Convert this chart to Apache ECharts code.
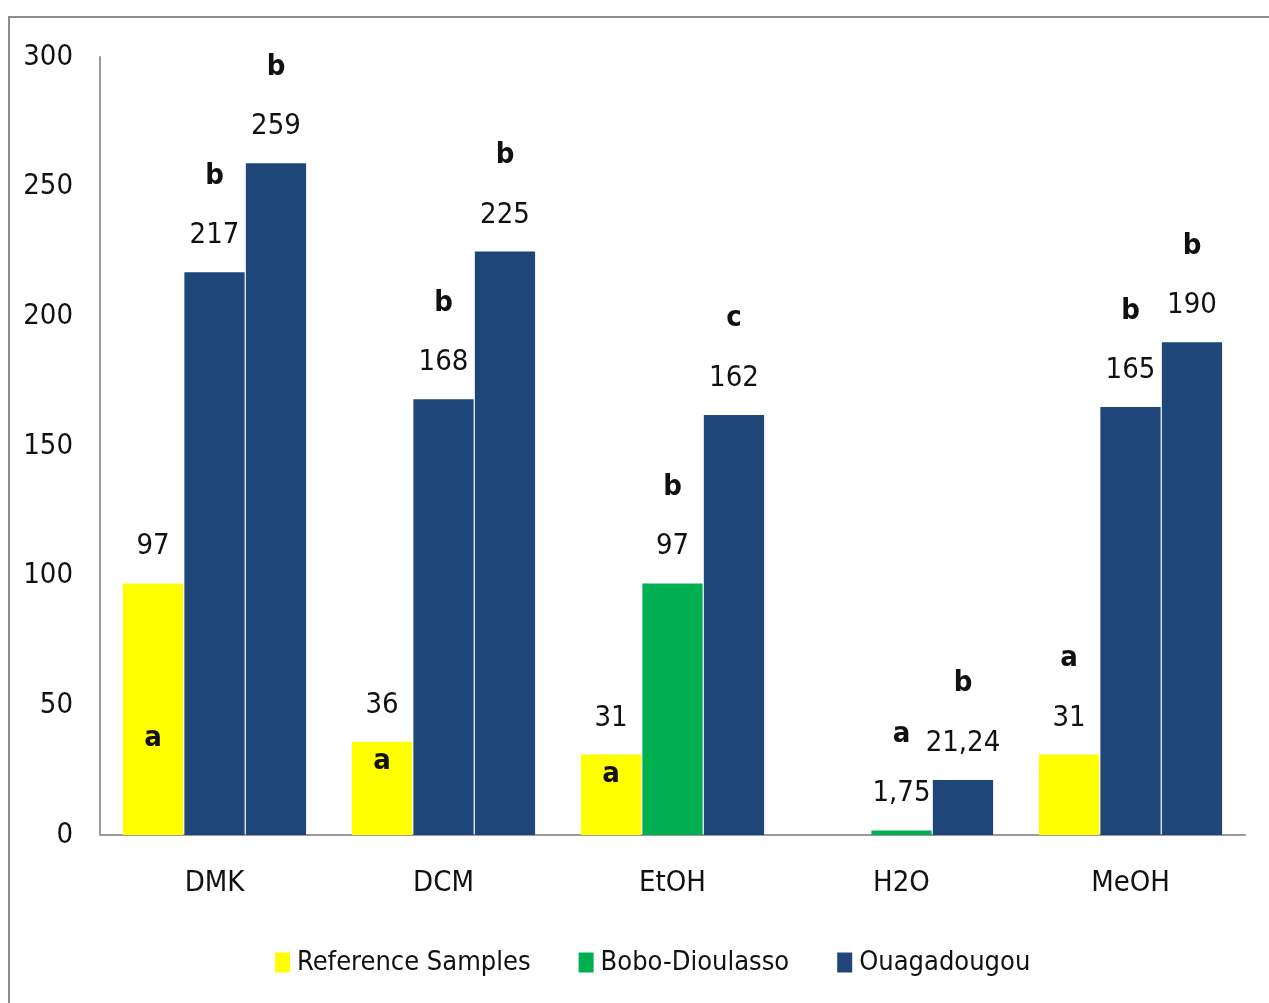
<!DOCTYPE html>
<html>
<head>
<meta charset="utf-8">
<script src="https://cdn.jsdelivr.net/npm/echarts@6/dist/echarts.min.js"></script>
<style>
  html, body { margin: 0; padding: 0; background: #ffffff; }
  #main { width: 1269px; height: 1003px; }
</style>
</head>
<body>
<div id="main"></div>
<script>
// data
var categories = ['DMK', 'DCM', 'EtOH', 'H2O', 'MeOH'];
var refValues = [97, 36, 31, null, 31];
var boboValues = [217, 168, 97, 1.75, 165];
var ouagaValues = [259, 225, 162, 21.24, 190];
// letters of the statistical groups
var refLetters = ['a', 'a', 'a', '', 'a'];
var boboLetters = ['b', 'b', 'b', 'a', 'b'];
var ouagaLetters = ['b', 'b', 'c', 'b', 'b'];
var yTicks = [0, 50, 100, 150, 200, 250, 300];

var FONT = "'Liberation Sans Narrow', 'DejaVu Sans Condensed', 'Open Sans', sans-serif";
var YELLOW = '#FFFF00', GREEN = '#00B050', BLUE = '#1F4678';
// in the original the Bobo-Dioulasso bars of these solvents are drawn in blue
var boboBlue = ['DMK', 'DCM', 'MeOH'];
// the letter of the reference bar sits inside the bar
var letterInside = ['DMK', 'DCM', 'EtOH'];

function fmtValue(v) {
    return String(v).replace('.', ',');
}

function letterMarks(values, letters, inside) {
    var out = [];
    for (var i = 0; i < values.length; i++) {
        if (values[i] == null || !letters[i]) continue;
        var isIn = inside && letterInside.indexOf(categories[i]) >= 0;
        out.push({
            coord: [i, values[i]],
            label: {
                formatter: letters[i],
                offset: [0, isIn ? (categories[i] == 'DMK' ? 155 : 20) : -96]
            }
        });
    }
    return out;
}

function makeSeries(name, values, letters, color, inside) {
    var data = [];
    for (var i = 0; i < values.length; i++) {
        var c = color;
        if (name == 'Bobo-Dioulasso' && boboBlue.indexOf(categories[i]) >= 0) c = BLUE;
        data.push({ value: values[i], itemStyle: { color: c } });
    }
    return {
        name: name,
        type: 'bar',
        data: data,
        itemStyle: { color: color },
        barGap: '2%',
        barCategoryGap: '20%',
        label: {
            show: true,
            position: 'top',
            distance: 22,
            color: '#111',
            fontFamily: FONT,
            fontSize: 29,
            formatter: function (p) { return fmtValue(p.value); }
        },
        markPoint: {
            symbol: 'rect',
            symbolSize: 0,
            silent: true,
            label: {
                show: true,
                position: 'inside',
                color: '#111',
                fontFamily: FONT,
                fontSize: 29,
                fontWeight: 'bold'
            },
            data: letterMarks(values, letters, inside)
        }
    };
}

var myChart = echarts.init(document.getElementById('main'));

var option = {
    animation: false,
    backgroundColor: '#ffffff',
    graphic: [{
        type: 'rect',
        shape: { x: 9, y: 17, width: 1400, height: 1200 },
        style: { fill: 'none', stroke: '#8c8c8c', lineWidth: 2 },
        silent: true
    }],
    grid: { left: 100, right: 24, top: 57, bottom: 168 },
    legend: {
        bottom: 22,
        left: 270,
        itemWidth: 15,
        itemHeight: 20,
        itemGap: 48,
        icon: 'rect',
        textStyle: { fontFamily: FONT, fontSize: 27, color: '#111', padding: [0, 0, 0, 2] },
        data: [
            { name: 'Reference Samples', itemStyle: { color: YELLOW } },
            { name: 'Bobo-Dioulasso', itemStyle: { color: GREEN } },
            { name: 'Ouagadougou', itemStyle: { color: BLUE } }
        ]
    },
    xAxis: {
        type: 'category',
        data: categories,
        axisTick: { show: false },
        axisLine: { lineStyle: { color: '#9a9a9a', width: 2 } },
        axisLabel: { margin: 34, fontFamily: FONT, fontSize: 29, color: '#111' }
    },
    yAxis: {
        type: 'value',
        min: yTicks[0],
        max: yTicks[yTicks.length - 1],
        interval: yTicks[1] - yTicks[0],
        splitLine: { show: false },
        axisTick: { show: false },
        axisLine: { show: true, lineStyle: { color: '#9a9a9a', width: 2 } },
        axisLabel: { margin: 27, fontFamily: FONT, fontSize: 29, color: '#111' }
    },
    series: [
        makeSeries('Reference Samples', refValues, refLetters, YELLOW, true),
        makeSeries('Bobo-Dioulasso', boboValues, boboLetters, GREEN, false),
        makeSeries('Ouagadougou', ouagaValues, ouagaLetters, BLUE, false)
    ]
};

myChart.setOption(option);
</script>
</body>
</html>
